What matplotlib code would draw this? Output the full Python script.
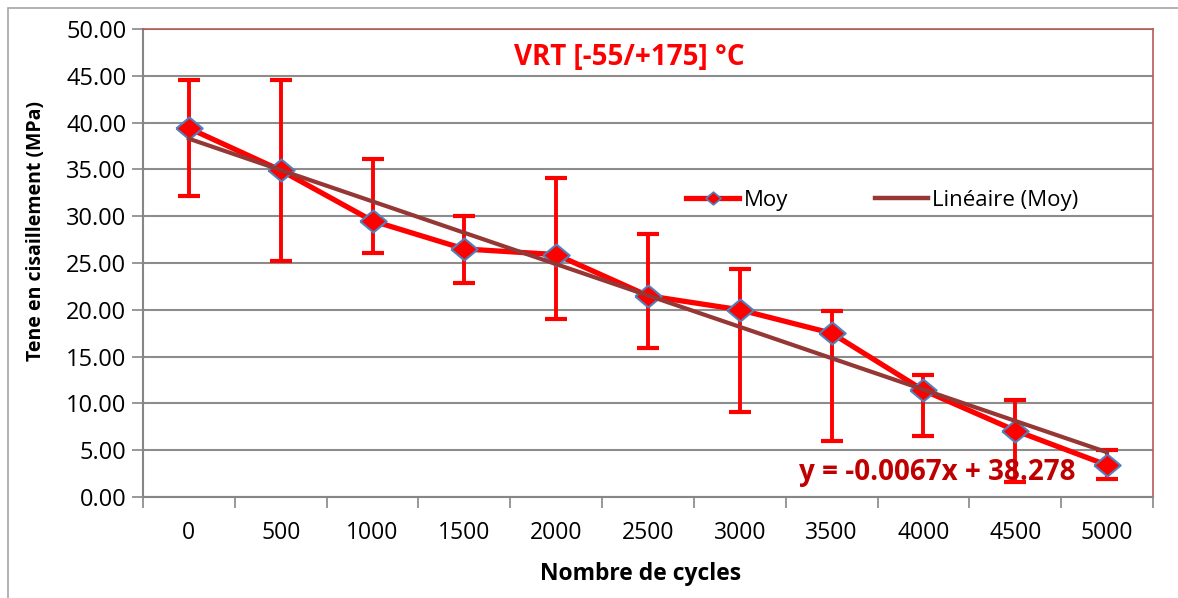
import matplotlib
matplotlib.use("Agg")
import matplotlib.pyplot as plt
import numpy as np
from matplotlib.patches import Rectangle
from matplotlib.lines import Line2D

plt.rcParams["font.family"] = ["Open Sans", "DejaVu Sans"]

# data
cycles   = [0, 500, 1000, 1500, 2000, 2500, 3000, 3500, 4000, 4500, 5000]
moy      = [39.4, 34.9, 29.5, 26.5, 25.9, 21.5, 20.0, 17.5, 11.4, 7.1, 3.4]
err_high = [44.55, 44.55, 36.1, 30.0, 34.1, 28.1, 24.4, 19.9, 13.0, 10.4, 5.0]
err_low  = [32.2, 25.2, 26.1, 22.9, 19.0, 15.9, 9.1, 6.0, 6.55, 1.6, 1.95]
slope, intercept = -0.0067, 38.278

pos   = np.arange(len(cycles))
moy   = np.array(moy)
yerr  = [moy - np.array(err_low), np.array(err_high) - moy]
trend = slope * np.array(cycles) + intercept

# slightly wide diamond, like the stretched Excel marker
diamond = [(-1.2, 0), (0, 1), (1.2, 0), (0, -1), (-1.2, 0)]

fig = plt.figure(figsize=(11.78, 5.98), dpi=100)
fig.patch.set_facecolor("white")
fig.patches.append(Rectangle((8 / 1178, -0.05), 1.2, 1 - 8 / 598 + 0.05,
                             transform=fig.transFigure, fill=False,
                             edgecolor="#A6A6A6", lw=1.2))

ax = fig.add_axes([143 / 1178, 1 - 497 / 598, 1010 / 1178, 468 / 598])

ax.errorbar(pos, moy, yerr=yerr, fmt="none", ecolor="#FF0000", elinewidth=2.8,
            capsize=8, capthick=3, zorder=3)
ax.plot(pos, moy, color="#FF0000", lw=3.8, marker=diamond, markersize=19,
        markerfacecolor="#FF0000", markeredgecolor="#4F81BD", markeredgewidth=1.5,
        zorder=4)
ax.plot(pos, trend, color="#953735", lw=3, zorder=5)

ax.set_xlim(-0.5, len(cycles) - 0.5)
ax.set_ylim(0, 50)
ax.set_yticks(np.arange(0, 50.1, 5))
ax.set_yticklabels([f"{v:.2f}" for v in np.arange(0, 50.1, 5)])
ax.set_xticks(pos)
ax.set_xticklabels([str(c) for c in cycles])
ax.set_xticks(np.arange(-0.5, len(cycles), 1), minor=True)
ax.tick_params(axis="x", which="major", length=0, pad=17, labelsize=16.5)
ax.tick_params(axis="x", which="minor", length=8, width=1.2, color="#868686")
ax.tick_params(axis="y", length=8, width=1.2, color="#868686", labelsize=17, pad=4)

ax.grid(axis="y", color="#8C8C8C", lw=1.5)
ax.set_axisbelow(True)
for s in ["left", "bottom"]:
    ax.spines[s].set_color("#868686")
    ax.spines[s].set_linewidth(1.5)
for s in ["top", "right"]:
    ax.spines[s].set_color("#B65A58")
    ax.spines[s].set_linewidth(1.2)

ax.set_xlabel("Nombre de cycles", fontsize=16.5, fontweight="bold")
ax.xaxis.set_label_coords(0.493, -0.139)
ax.set_ylabel("Tene en cisaillement (MPa)", fontsize=14, fontweight="bold")
ax.yaxis.set_label_coords(-0.096, 0.568)

ax.text(4.80, 47.0, "VRT [-55/+175] °C", color="#FF0000", fontsize=20,
        fontweight="bold", ha="center", va="center")
ax.text(6.64, 2.67, "y = -0.0067x + 38.278", color="#C00000", fontsize=20,
        fontweight="bold", ha="left", va="center", zorder=6)

handles = [
    Line2D([], [], color="#FF0000", lw=3.8, marker=diamond, markersize=11,
           markerfacecolor="#FF0000", markeredgecolor="#4F81BD", markeredgewidth=1.2),
    Line2D([], [], color="#953735", lw=3.2),
]
ax.legend(handles, ["Moy", "Linéaire (Moy)"], loc="center", bbox_to_anchor=(0.732, 0.634),
          ncol=2, frameon=False, fontsize=16, handlelength=2.4, handletextpad=0.2,
          columnspacing=3.9)

fig.savefig("out.png", dpi=100, facecolor=fig.get_facecolor())
